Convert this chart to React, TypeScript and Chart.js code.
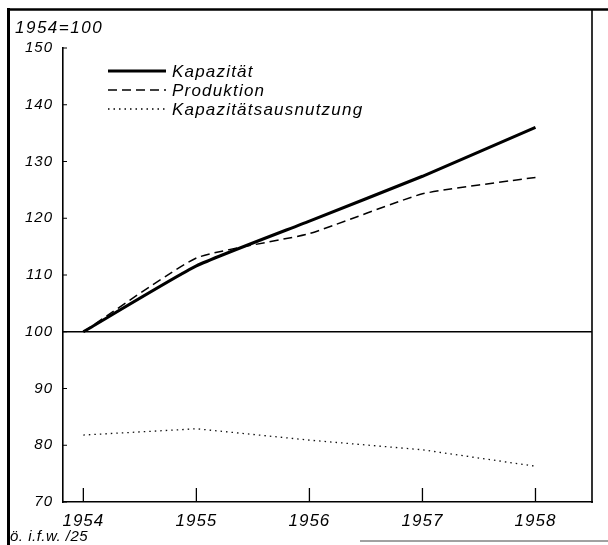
import React, { useEffect, useRef } from "react";
import { Chart, registerables } from "chart.js";

Chart.register(...registerables);

const years = [1954, 1955, 1956, 1957, 1958];
const kapazitaet = [100, 111.6, 119.5, 127.4, 136];
const produktion = [100, 113, 117.3, 124.3, 127.2];
const ausnutzung = [81.8, 82.9, 80.9, 79.2, 76.3];
const yTicks = [70, 80, 90, 100, 110, 120, 130, 140, 150];
const baseValue = 100;
const titleText = "1954=100";
const footText = "ö. i.f.w. /25";
const seriesNames = ["Kapazität", "Produktion", "Kapazitätsausnutzung"];

const FONT = "'Liberation Sans', 'DejaVu Sans', sans-serif";

const spacingPlugin = {
  id: "spacing",
  beforeDraw(chart: any) {
    chart.ctx.letterSpacing = "1px";
  },
};

const decorPlugin = {
  id: "decor",
  afterDraw(chart: any) {
    const { ctx, chartArea, scales } = chart;
    const xs = scales.x;
    const ys = scales.y;
    const line = (x1: number, y1: number, x2: number, y2: number, w: number, dash: number[] = []) => {
      ctx.beginPath();
      ctx.setLineDash(dash);
      ctx.lineWidth = w;
      ctx.moveTo(x1, y1);
      ctx.lineTo(x2, y2);
      ctx.stroke();
    };
    ctx.save();
    ctx.strokeStyle = "#000";
    ctx.lineCap = "butt";
    const yb = ys.getPixelForValue(baseValue);
    line(chartArea.left, yb, chartArea.right, yb, 1.6);
    years.forEach((v) => {
      const px = xs.getPixelForValue(v);
      line(px, chartArea.bottom, px, chartArea.bottom - 14, 1.3);
    });
    yTicks.forEach((v) => {
      const py = ys.getPixelForValue(v);
      line(chartArea.left, py, chartArea.left + 4, py, 1);
    });
    line(8.5, 8, 8.5, 545, 3);
    line(7, 9.5, 608, 9.5, 2.5);
    line(chartArea.right, 9, chartArea.right, chartArea.bottom + 1, 1.6);
    ctx.strokeStyle = "#444";
    line(360, 541, 608, 541, 1);
    ctx.strokeStyle = "#000";

    ctx.fillStyle = "#000";
    ctx.textBaseline = "middle";
    ctx.textAlign = "left";
    ctx.letterSpacing = "1.5px";
    ctx.font = `italic 17px ${FONT}`;
    ctx.fillText(titleText, 15, 28);
    ctx.letterSpacing = "0.5px";
    ctx.font = `italic 15px ${FONT}`;
    ctx.fillText(footText, 10, 537);

    const ds = chart.data.datasets;
    const ly = [71, 90, 109];
    ds.forEach((d: any, i: number) => {
      ctx.strokeStyle = "#000";
      line(108, ly[i], 166, ly[i], d.borderWidth, d.borderDash || []);
      ctx.font = `italic 17px ${FONT}`;
      ctx.letterSpacing = "1.2px";
      ctx.setLineDash([]);
      ctx.fillText(d.label, 172, ly[i] + 1);
    });
    ctx.restore();
  },
};

export default function App() {
  const ref = useRef<HTMLCanvasElement>(null);
  useEffect(() => {
    if (!ref.current) return;
    const mk = (arr: number[]) => years.map((x, i) => ({ x, y: arr[i] }));
    const chart = new Chart(ref.current, {
      type: "line",
      data: {
        datasets: [
          {
            label: seriesNames[0],
            data: mk(kapazitaet),
            borderColor: "#000",
            borderWidth: 3,
            pointRadius: 0,
            tension: 0.15,
          },
          {
            label: seriesNames[1],
            data: mk(produktion),
            borderColor: "#000",
            borderWidth: 1.5,
            borderDash: [9, 5],
            pointRadius: 0,
            tension: 0.15,
          },
          {
            label: seriesNames[2],
            data: mk(ausnutzung),
            borderColor: "#111",
            borderWidth: 1.3,
            borderDash: [1.5, 4],
            pointRadius: 0,
            tension: 0,
          },
        ],
      },
      options: {
        animation: false,
        responsive: false,
        devicePixelRatio: 1,
        layout: { padding: { top: 48, right: 16, left: 0, bottom: 0 } },
        plugins: { legend: { display: false }, tooltip: { enabled: false }, title: { display: false } },
        scales: {
          x: {
            type: "linear",
            min: 1953.82,
            max: 1958.5,
            afterBuildTicks: (s: any) => {
              s.ticks = years.map((v) => ({ value: v }));
            },
            afterFit: (s: any) => {
              s.height = 43;
            },
            grid: { display: false, drawTicks: false },
            border: { display: true, color: "#000", width: 1.6 },
            ticks: {
              padding: 9,
              color: "#000",
              font: { family: FONT, size: 17, style: "italic" },
              callback: (v: any) => String(v),
            },
          },
          y: {
            type: "linear",
            min: 70,
            max: 150,
            afterBuildTicks: (s: any) => {
              s.ticks = yTicks.map((v) => ({ value: v }));
            },
            afterFit: (s: any) => {
              s.width = 63;
            },
            grid: { display: false, drawTicks: false },
            border: { display: true, color: "#000", width: 1.6 },
            ticks: {
              padding: 10,
              color: "#000",
              font: { family: FONT, size: 15, style: "italic" },
              callback: (v: any) => String(v),
            },
          },
        },
      },
      plugins: [spacingPlugin, decorPlugin],
    } as any);
    return () => chart.destroy();
  }, []);
  return (
    <div style={{ position: "fixed", left: 0, top: 0, width: 608, height: 545, background: "#fff" }}>
      <canvas ref={ref} width={608} height={545} style={{ display: "block" }} />
    </div>
  );
}
